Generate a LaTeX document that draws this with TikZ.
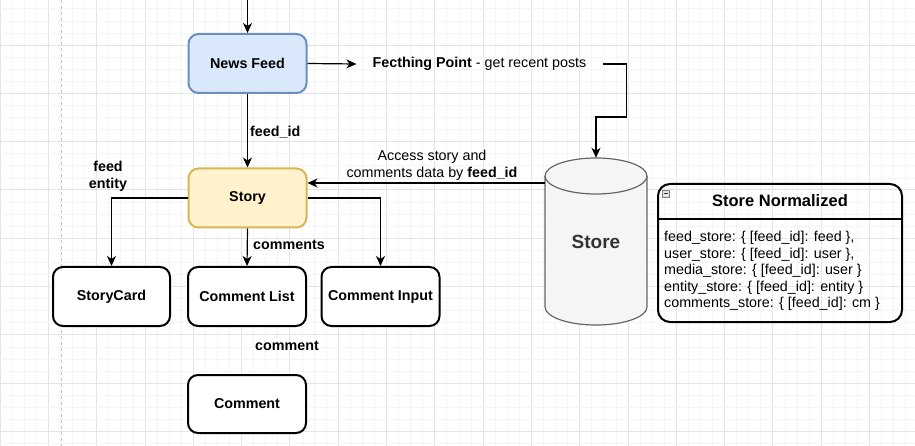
\documentclass[tikz,border=0pt]{standalone}
\usepackage{fontspec}
\setmainfont{Liberation Sans}
\usetikzlibrary{arrows.meta}
\definecolor{nfFill}{HTML}{DAE8FC}
\definecolor{nfLine}{HTML}{6C8EBF}
\definecolor{stFill}{HTML}{FFF2CC}
\definecolor{stLine}{HTML}{D6B656}
\definecolor{cyFill}{HTML}{F5F5F5}
\definecolor{cyLine}{HTML}{666666}
\definecolor{cyText}{HTML}{333333}
\definecolor{gridMinor}{HTML}{F5F5F5}
\definecolor{gridMajor}{HTML}{E4E4E4}
\begin{document}
\begin{tikzpicture}[x=1pt,y=-1pt,
  box/.style={draw=black, line width=2pt, rounded corners=10pt, minimum width=118pt,
    minimum height=59pt, fill=white, inner sep=0pt,
    font=\fontsize{14.3}{16}\selectfont\bfseries},
  lbl/.style={inner sep=0pt, font=\fontsize{14.3}{17}\selectfont\bfseries},
  txt/.style={inner sep=0pt, font=\fontsize{14.3}{17}\selectfont},
  conn/.style={line width=1.2pt},
  arr/.style={line width=1.2pt, -{Stealth[length=10pt,width=9pt,inset=3pt]}},
  minorgrid/.style={gridMinor, line width=0.6pt},
  majorgrid/.style={gridMajor, line width=0.8pt}]
\useasboundingbox (0,0) rectangle (915,446);
\fill[white] (0,0) rectangle (915,446);
% grid
\foreach \i in {0,...,76}{
  \pgfmathtruncatemacro{\m}{mod(\i,4)}
  \ifnum\m=0
    \draw[majorgrid] ({\i*12.075},0) -- ({\i*12.075},446);
  \else
    \draw[minorgrid] ({\i*12.075},0) -- ({\i*12.075},446);
  \fi
}
\foreach \j in {0,...,38}{
  \pgfmathtruncatemacro{\m}{mod(\j,4)}
  \ifnum\m=0
    \draw[majorgrid] (0,{-3.3+\j*12.075}) -- (915,{-3.3+\j*12.075});
  \else
    \draw[minorgrid] (0,{-3.3+\j*12.075}) -- (915,{-3.3+\j*12.075});
  \fi
}
\draw[gray!45, dashed, line width=0.7pt] (61,0) -- (61,446);

% nodes
\node[box, fill=nfFill, draw=nfLine] (nf) at (247.5,63.5) {News Feed};
\node[box, fill=stFill, draw=stLine] (story) at (247.5,198) {Story};
\node[box, minimum width=117pt] (sc) at (111.5,296.5) {StoryCard};
\node[box] (cl) at (247,296.5) {Comment List};
\node[box] (ci) at (380.5,296.5) {Comment Input};
\node[box, minimum height=58pt] (cm) at (247,404) {Comment};
\coordinate (top) at (247.5,-2);

\node[inner xsep=16pt, inner ysep=0pt, font=\fontsize{14.3}{17}\selectfont] (fp) at (479.5,64)
  {\textbf{Fecthing Point} - get recent posts};

% cylinder
\fill[cyFill] (545,176) -- (545,307) arc[start angle=180, end angle=360, x radius=51pt, y radius=18pt]
  -- (647,176) arc[start angle=0, end angle=180, x radius=51pt, y radius=18pt] -- cycle;
\draw[cyLine, line width=1.2pt] (545,176) -- (545,307) arc[start angle=180, end angle=360, x radius=51pt, y radius=18pt]
  -- (647,176) arc[start angle=0, end angle=180, x radius=51pt, y radius=18pt] -- cycle;
\draw[cyLine, line width=1.2pt] (545,176) arc[start angle=180, end angle=360, x radius=51pt, y radius=18pt];
\node[minimum width=102pt, minimum height=167pt, inner sep=0pt, text=cyText,
  font=\fontsize{19}{22}\selectfont\bfseries] (store) at (596,241.5) {Store};

% store normalized
\node[draw=black, line width=2pt, rounded corners=12pt, minimum width=244pt,
  minimum height=138pt, inner sep=0pt] (sn) at (780,253) {};
\coordinate (hl) at (0,219);
\draw[line width=2pt] (sn.west |- hl) -- (sn.east |- hl);
\node[lbl, font=\fontsize{16.5}{19}\selectfont\bfseries] (snt) at (780,201) {Store Normalized};
\draw[gray, fill=gray!20, line width=0.6pt] (662,190) rectangle (669,197);
\draw[gray!40!black, line width=0.8pt] (663.5,193.5) -- (667.5,193.5);
\node[txt, anchor=north west, align=left, font=\fontsize{14.3}{16.5}\selectfont] (snb) at (664,231)
  {feed\_store: \{ [feed\_id]: feed \},\\
   user\_store: \{ [feed\_id]: user \},\\
   media\_store: \{ [feed\_id]: user \}\\
   entity\_store: \{ [feed\_id]: entity \}\\
   comments\_store: \{ [feed\_id]: cm \}};

% labels
\node[lbl, anchor=west] (lfid) at (250,132) {feed\_id};
\node[lbl, anchor=west] (lcms) at (253,245) {comments};
\node[lbl, align=center] (lfe) at (108,176.5) {feed\\entity};
\node[lbl] (lcm) at (287,346) {comment};
\node[txt, align=center] (lacc) at (432,165.5) {Access story and\\comments data by \textbf{feed\_id}};

% connectors
\draw[arr] (top) -- (nf.north);
\draw[arr] (nf.east) -- (fp.west);
\draw[arr] (fp.east) -- ++(24,0) -- ++(0,53) -| (store.north);
\draw[arr] (nf.south) -- (story.north);
\coordinate (sa) at ([yshift=15pt]story.east);
\draw[arr] (store.west |- sa) -- (sa);
\draw[arr] (story.west) -| (sc.north);
\draw[arr] (story.south) -- (cl.north);
\draw[arr] (story.east) -| (ci.north);
\end{tikzpicture}
\end{document}
